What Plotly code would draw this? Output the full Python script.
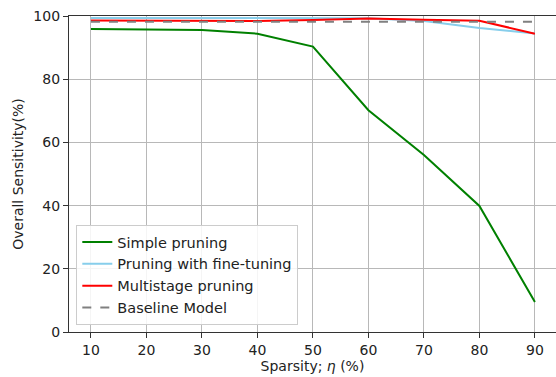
import plotly.graph_objects as go

sparsity = [10, 20, 30, 40, 50, 60, 70, 80, 90]
simple_pruning = [95.9, 95.8, 95.6, 94.4, 90.3, 70.2, 56.0, 39.9, 9.5]
fine_tuning = [99.4, 99.4, 99.4, 99.4, 99.4, 99.3, 98.4, 96.2, 94.5]
multistage = [98.6, 98.5, 98.5, 98.4, 98.7, 99.2, 98.8, 98.5, 94.4]
baseline = [98.2] * len(sparsity)

fig = go.Figure()
fig.add_trace(go.Scatter(x=sparsity, y=simple_pruning, mode="lines", name="Simple pruning",
                         line=dict(color="green", width=2)))
fig.add_trace(go.Scatter(x=sparsity, y=fine_tuning, mode="lines", name="Pruning with fine-tuning",
                         line=dict(color="skyblue", width=2)))
fig.add_trace(go.Scatter(x=sparsity, y=multistage, mode="lines", name="Multistage pruning",
                         line=dict(color="red", width=2)))
fig.add_trace(go.Scatter(x=sparsity, y=baseline, mode="lines", name="Baseline Model",
                         line=dict(color="gray", width=2, dash="dash")))

axis_common = dict(showline=True, linecolor="#333333", linewidth=1.3, mirror=True,
                   showgrid=True, gridcolor="#b8b8b8", gridwidth=1,
                   ticks="outside", ticklen=5, tickcolor="#333333",
                   tickfont=dict(size=14, color="#222222"), zeroline=False)

fig.update_layout(
    width=556, height=377,
    margin=dict(l=69, r=0, t=16, b=45),
    paper_bgcolor="white", plot_bgcolor="white",
    font=dict(family="DejaVu Sans", size=14, color="#222222"),
    xaxis=dict(range=[6.04, 93.8], tickvals=sparsity,
               title=dict(text="Sparsity; <i>η</i> (%)", font=dict(size=14), standoff=4),
               **axis_common),
    yaxis=dict(range=[0, 100], tickvals=[0, 20, 40, 60, 80, 100],
               title=dict(text="Overall Sensitivity(%)", font=dict(size=14), standoff=6),
               **axis_common),
    legend=dict(x=0.015, y=0.022, xanchor="left", yanchor="bottom",
                bgcolor="rgba(255,255,255,0.85)", bordercolor="#cccccc", borderwidth=1,
                font=dict(size=14.5), tracegroupgap=0, itemwidth=30),
    showlegend=True,
)

fig.write_html("out.html")
